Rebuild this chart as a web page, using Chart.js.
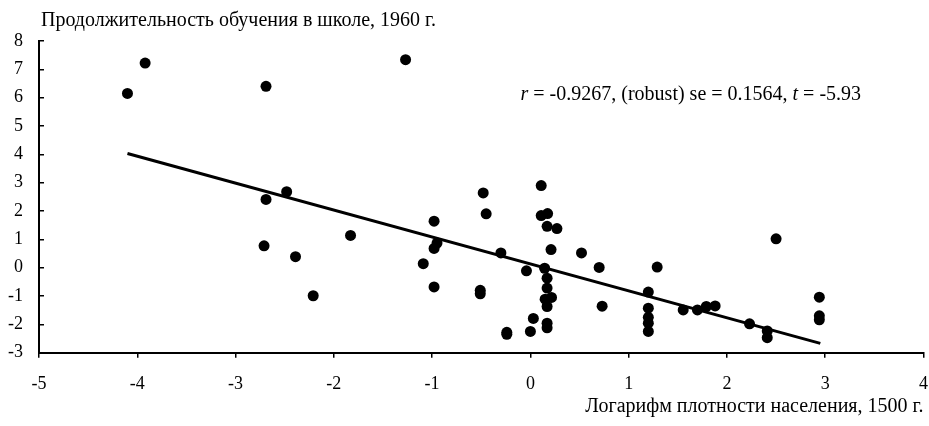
<!DOCTYPE html>
<html lang="ru">
<head>
<meta charset="utf-8">
<title>Плотность населения и обучение в школе</title>
<script src="https://cdn.jsdelivr.net/npm/chart.js@4"></script>
<style>
    html, body { margin: 0; padding: 0; background: #fff; overflow: hidden; }
    #wrap { width: 929px; height: 426px; }
</style>
</head>
<body>
<div id="wrap"><canvas id="scatterChart" width="929" height="426"></canvas></div>
<script>
// Data
const countryX = [
    -4.10, -3.92, -2.69, -1.27, -2.69, -2.48, -2.71, -2.39, -2.21, -1.83,
    -0.98, -0.95, -0.98, -1.09, -0.98, -0.48, -0.45, 0.11, 0.11, 0.175,
    0.17, 0.27, 0.21, -0.30, 0.52, 0.70, -0.04, 0.145, 0.17, 0.17,
    -0.51, -0.51, 0.15, 0.215, 0.17, 0.73, 0.03, 0.17, 0.17, 0.00,
    -0.24, -0.24, 1.29, 1.20, 1.20, 1.20, 1.20, 1.20, 1.555, 1.70,
    1.79, 1.88, 2.23, 2.41, 2.41, 2.50, 2.94, 2.94, 2.94
];
const countryY = [
    6.15, 7.22, 6.40, 7.34, 2.41, 2.68, 0.77, 0.39, -0.99, 1.14,
    1.64, 0.87, 0.68, 0.14, -0.68, 2.64, 1.90, 2.90, 1.84, 1.91,
    1.46, 1.38, 0.64, 0.52, 0.52, 0.01, -0.11, -0.02, -0.37, -0.72,
    -0.80, -0.92, -1.11, -1.05, -1.37, -1.36, -1.79, -1.96, -2.12, -2.25,
    -2.28, -2.35, 0.02, -0.86, -1.43, -1.75, -1.96, -2.25, -1.49, -1.49,
    -1.37, -1.35, -1.98, -2.23, -2.47, 1.02, -1.04, -1.70, -1.84
];
const fitX = [-4.10, 2.95];
const fitY = [4.03, -2.67];

const xTicks = [-5, -4, -3, -2, -1, 0, 1, 2, 3, 4];
const yTicks = [-3, -2, -1, 0, 1, 2, 3, 4, 5, 6, 7, 8];

const yTitle = 'Продолжительность обучения в школе, 1960 г.';
const xTitle = 'Логарифм плотности населения, 1500 г.';
// annotation pieces: [text, italic]
const statParts = [
    ['r', true], [' = -0.9267, (robust) se = 0.1564, ', false], ['t', true], [' = -5.93', false]
];
const statAt = { x: -0.10, y: 5.93 };

const FONT = "'Liberation Serif', 'Times New Roman', serif";

// Text drawn on top of the chart
const TextPlugin = {
    id: 'extraText',
    afterDraw(chart) {
        const ctx = chart.ctx;
        const area = chart.chartArea;
        ctx.save();
        ctx.fillStyle = '#000';
        ctx.textBaseline = 'alphabetic';
        ctx.textAlign = 'left';

        // y axis title, above the plot
        ctx.font = '20px ' + FONT;
        ctx.fillText(yTitle, area.left + 2, 26);

        // regression stats
        let px = chart.scales.x.getPixelForValue(statAt.x);
        const py = chart.scales.y.getPixelForValue(statAt.y);
        statParts.forEach(([text, italic]) => {
            ctx.font = (italic ? 'italic ' : '') + '20px ' + FONT;
            ctx.fillText(text, px, py);
            px += ctx.measureText(text).width;
        });
        ctx.restore();
    }
};

const ChartManager = {
    chart: null,

    buildPoints(xs, ys) {
        return xs.map((x, i) => ({ x: x, y: ys[i] }));
    },

    initialize() {
        const ctx = document.getElementById('scatterChart').getContext('2d');
        this.chart = new Chart(ctx, {
            type: 'scatter',
            data: {
                datasets: [{
                    label: 'fit',
                    data: this.buildPoints(fitX, fitY),
                    showLine: true,
                    borderColor: '#000',
                    borderWidth: 3,
                    pointRadius: 0,
                    order: 1
                }, {
                    label: 'countries',
                    data: this.buildPoints(countryX, countryY),
                    backgroundColor: '#000',
                    borderWidth: 0,
                    pointRadius: 5.5,
                    order: 0
                }]
            },
            options: {
                responsive: false,
                animation: false,
                layout: { padding: { top: 41, right: 3.5, bottom: 0, left: 0 } },
                plugins: {
                    legend: { display: false },
                    tooltip: { enabled: false }
                },
                scales: {
                    x: {
                        type: 'linear',
                        min: -5,
                        max: 4,
                        afterBuildTicks: scale => { scale.ticks = xTicks.map(v => ({ value: v })); },
                        afterFit: scale => {
                            scale.height = 73.3;
                            scale.paddingRight = 0;
                        },
                        ticks: { color: '#000', font: { family: FONT, size: 18 }, padding: 16 },
                        grid: { drawOnChartArea: false, drawTicks: true, tickLength: 5, color: '#000', lineWidth: 1.5 },
                        border: { color: '#000', width: 2 },
                        title: {
                            display: true,
                            text: xTitle,
                            align: 'end',
                            color: '#000',
                            font: { family: FONT, size: 20 },
                            padding: { top: 0, bottom: 7 }
                        }
                    },
                    y: {
                        type: 'linear',
                        min: -3,
                        max: 8,
                        afterBuildTicks: scale => { scale.ticks = yTicks.map(v => ({ value: v })); },
                        afterFit: scale => { scale.width = 39; },
                        ticks: { color: '#000', font: { family: FONT, size: 18 }, padding: 21 },
                        grid: { drawOnChartArea: false, drawTicks: true, tickLength: -5, color: '#000', lineWidth: 1.5 },
                        border: { color: '#000', width: 2 }
                    }
                }
            },
            plugins: [TextPlugin]
        });
    }
};

document.addEventListener('DOMContentLoaded', () => {
    ChartManager.initialize();
});
</script>
</body>
</html>
